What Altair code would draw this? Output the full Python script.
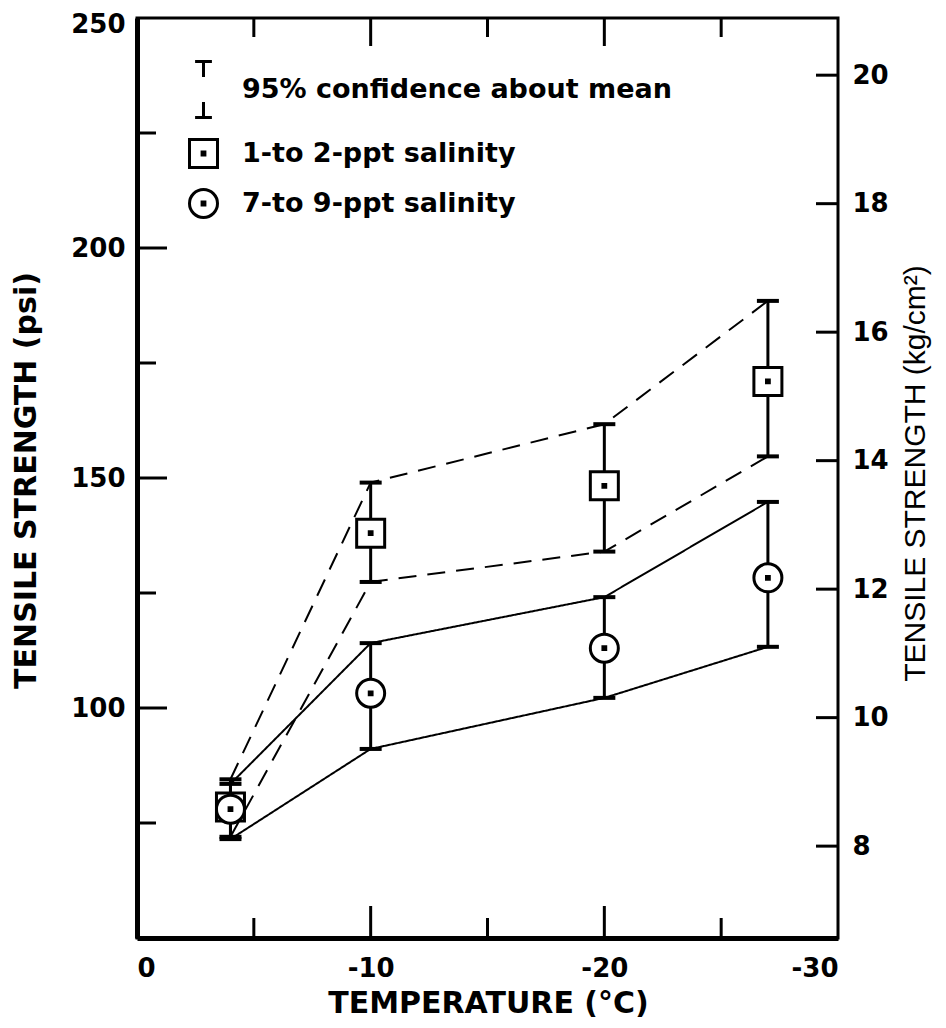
import altair as alt
import pandas as pd

# ---- data ----
temps = [-4, -10, -20, -27]
low_sal_mean = [78.5, 138.0, 148.3, 171.0]
low_sal_lower = [72.0, 127.4, 134.0, 154.7]
low_sal_upper = [84.5, 149.0, 161.7, 188.5]
high_sal_mean = [78.0, 103.2, 113.0, 128.3]
high_sal_lower = [71.5, 91.1, 102.2, 113.3]
high_sal_upper = [83.5, 114.1, 124.1, 144.8]

series_names = ["1-to 2-ppt salinity", "7-to 9-ppt salinity"]
legend_entries = ["95% confidence about mean"] + series_names

psi_labels = [100, 150, 200, 250]
psi_major_ticks = [100, 150, 200]
psi_minor_ticks = [75, 125, 175, 225]
temp_labels = [0, -10, -20, -30]
temp_major_ticks = [-10, -20]
temp_minor_ticks = [-5, -15, -25]
kg_ticks = [8, 10, 12, 14, 16, 18, 20]

# ---- tables ----
rows = []
for name, m, lo, hi in [
    (series_names[0], low_sal_mean, low_sal_lower, low_sal_upper),
    (series_names[1], high_sal_mean, high_sal_lower, high_sal_upper),
]:
    for t, a, b, c in zip(temps, m, lo, hi):
        rows.append({"temp": t, "mean": a, "lower": b, "upper": c, "series": name})
points = pd.DataFrame(rows)

brows = []
for r in rows:
    for bound in ("lower", "upper"):
        brows.append({"temp": r["temp"], "value": r[bound], "series": r["series"],
                      "key": r["series"] + "|" + bound})
bounds = pd.DataFrame(brows)

W, H = 701, 920
FONT = "DejaVu Sans"

xscale = alt.Scale(domain=[-30, 0], reverse=True, nice=False, zero=False)
yscale = alt.Scale(domain=[50, 250], nice=False, zero=False)
kgscale = alt.Scale(domain=[6.57, 20.89], nice=False, zero=False)

errbar_path = "M-0.3,-1H0.3M0,-1V-0.45M0,0.45V1M-0.3,1H0.3"
square_path = "M-0.5,-0.5H0.5V0.5H-0.5Z M-0.05,-0.05H0.05V0.05H-0.05Z"
circle_path = ("M-0.5,0A0.5,0.5,0,1,0,0.5,0A0.5,0.5,0,1,0,-0.5,0Z "
               "M-0.05,-0.05H0.05V0.05H-0.05Z")

x_axis = alt.Axis(values=temp_labels, ticks=False, tickSize=0, domainWidth=5,
                  domainColor="black", labelPadding=17,
                  labelExpr="datum.value == 0 ? '0' : '-' + format(-datum.value, 'd')",
                  title="TEMPERATURE (°C)", titleX=351, titleY=65,
                  titleBaseline="middle", titleAlign="center", grid=False)
y_axis = alt.Axis(values=psi_labels, ticks=False, tickSize=0, domainWidth=5,
                  domainColor="black", labelPadding=12, labelFlush=True,
                  labelFlushOffset=7,
                  title="TENSILE STRENGTH (psi)", titleX=-111, titleY=462,
                  titleAngle=270, titleBaseline="middle", titleAlign="center",
                  grid=False)


def X(field):
    return alt.X(field, scale=xscale, axis=x_axis)


def Y(field):
    return alt.Y(field, scale=yscale, axis=y_axis)


lines = alt.Chart(bounds).mark_line(strokeWidth=2, color="black").encode(
    x=X("temp:Q"),
    y=Y("value:Q"),
    detail="key:N",
    strokeDash=alt.StrokeDash("series:N",
                              scale=alt.Scale(domain=series_names, range=[[18, 11], [1, 0]]),
                              legend=None),
)

errs = alt.Chart(points).mark_rule(strokeWidth=3, color="black").encode(
    x=X("temp:Q"), y=Y("lower:Q"), y2="upper:Q",
)
caps_lo = alt.Chart(points).mark_tick(orient="horizontal", size=22, thickness=4,
                                      color="black", opacity=1).encode(
    x=X("temp:Q"), y=Y("lower:Q"),
)
caps_hi = alt.Chart(points).mark_tick(orient="horizontal", size=22, thickness=4,
                                      color="black", opacity=1).encode(
    x=X("temp:Q"), y=Y("upper:Q"),
)

pts = alt.Chart(points).mark_point(size=3136, color="black", fill="white",
                                   strokeWidth=3, opacity=1).encode(
    x=X("temp:Q"),
    y=Y("mean:Q"),
    shape=alt.Shape("series:N",
                    scale=alt.Scale(domain=legend_entries,
                                    range=[errbar_path, square_path, circle_path]),
                    legend=alt.Legend(title=None, orient="none", legendX=37, legendY=42,
                                      symbolSize=3136, symbolStrokeWidth=3,
                                      labelFont=FONT, labelLimit=700,
                                      labelFontSize=27, labelFontWeight="bold",
                                      labelColor="black", labelOffset=9, rowPadding=0)),
)


def yticks(values, x0, x1):
    return alt.Chart(pd.DataFrame({"v": values})).mark_rule(strokeWidth=3, color="black").encode(
        y=Y("v:Q"), x=alt.value(x0), x2=alt.value(x1))


def xticks(values, y0, y1):
    return alt.Chart(pd.DataFrame({"v": values})).mark_rule(strokeWidth=3, color="black").encode(
        x=X("v:Q"), y=alt.value(y0), y2=alt.value(y1))


psi_layer = alt.layer(
    lines, errs, caps_lo, caps_hi,
    yticks(psi_major_ticks, 0, 30), yticks(psi_minor_ticks, 0, 19),
    xticks(temp_major_ticks, 0, 28), xticks(temp_minor_ticks, 0, 19),
    xticks(temp_major_ticks, H, H - 32), xticks(temp_minor_ticks, H, H - 20),
    pts,
)

kg_layer = alt.Chart(pd.DataFrame({"kg": kg_ticks})).mark_rule(strokeWidth=3, color="black").encode(
    y=alt.Y("kg:Q", scale=kgscale,
            axis=alt.Axis(orient="right", values=kg_ticks, ticks=False, tickSize=0,
                          domain=False, labelPadding=14, grid=False,
                          title="TENSILE STRENGTH (kg/cm²)", titleX=77, titleY=455,
                          titleAngle=270, titleBaseline="middle", titleAlign="center",
                          titleFont="Liberation Sans", titleFontWeight="normal",
                          titleFontSize=30)),
    x=alt.value(W), x2=alt.value(W - 22),
)

chart = alt.layer(psi_layer, kg_layer).resolve_scale(y="independent").properties(
    width=W, height=H,
    padding={"left": 129, "top": 10, "right": 100, "bottom": 82},
    autosize=alt.AutoSizeParams(type="none"),
    background="white",
).configure_view(stroke="black", strokeWidth=3).configure_axis(
    labelFont=FONT, labelFontWeight="bold", labelFontSize=26, labelColor="black",
    titleFont=FONT, titleFontWeight="bold", titleFontSize=30, titleColor="black",
)

chart.save("out.html", embed_options={"renderer": "svg", "actions": False})
